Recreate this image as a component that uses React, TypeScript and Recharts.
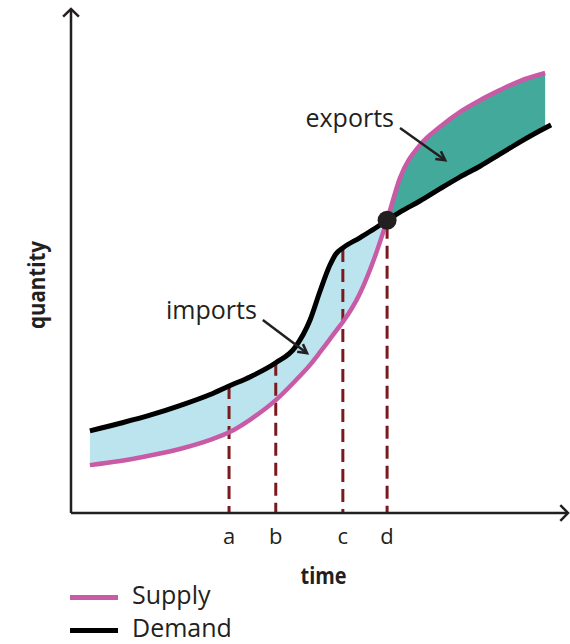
import React from "react";
import {
  ComposedChart,
  Area,
  Line,
  XAxis,
  YAxis,
  ReferenceLine,
  ReferenceDot,
  Label,
} from "recharts";

// time on the x axis, quantity on the y axis, both 0..100
const TIME = [
  3.8, 9.9, 15.9, 21.9, 28.0, 31.8, 36.0, 41.2, 45.1, 48.1, 50.1, 52.1, 53.3,
  54.7, 58.1, 61.2, 63.6, 66.2, 70.2, 74.2, 78.3, 82.3, 86.3, 90.3, 95.4, 96.6,
];
const SUPPLY = [
  9.5, 10.3, 11.4, 12.7, 14.5, 16.0, 18.5, 22.4, 26.2, 29.4, 31.9, 34.5, 36.1,
  37.9, 43.5, 51.0, 58.1, 66.5, 73.0, 76.6, 79.6, 81.9, 83.9, 85.7, 87.3, null,
];
const DEMAND = [
  16.3, 17.8, 19.4, 21.3, 23.5, 25.2, 27.0, 29.8, 32.9, 38.3, 44.0, 49.2, 51.4,
  52.6, 54.6, 56.5, 58.1, 59.7, 61.9, 64.3, 66.7, 68.8, 71.2, 73.6, 76.4, 77.0,
];

// marked moments a..d and where their dashed lines stop
const MARK_TIMES = [31.8, 41.2, 54.7, 63.6];
const MARK_LABELS = ["a", "b", "c", "d"];
const MARK_TOPS = [25.2, 29.8, 52.4, 57.0];

// supply meets demand
const CROSS_TIME = 63.6;
const CROSS_QTY = 58.1;

// annotations
const NOTE_TEXT = ["imports", "exports"];
const NOTE_FROM = [
  [38.6, 38.3],
  [66.2, 76.4],
];
const NOTE_TO = [
  [47.5, 31.7],
  [75.3, 70.0],
];

const SERIES = ["Supply", "Demand"];

const INK = "#231f20";
const PINK = "#c95aa5";
const BLUE = "#bce4ef";
const TEAL = "#43a99b";
const DASH = "#7b1a1e";
const FONT = "'Open Sans', sans-serif";

const data = TIME.map((t, i) => ({
  t,
  supply: SUPPLY[i],
  demand: DEMAND[i],
}));

const importsBand = (row: any) =>
  row.t <= CROSS_TIME && row.supply != null ? [row.supply, row.demand] : null;
const exportsBand = (row: any) =>
  row.t >= CROSS_TIME && row.supply != null ? [row.demand, row.supply] : null;

// line with an open arrow head at the second point, optional text at the first
function arrow(head: number, spread: number, width: number, text?: string) {
  return (p: any) => {
    const { x1, y1, x2, y2 } = p;
    const a = Math.atan2(y2 - y1, x2 - x1);
    const w1 = `${x2 - head * Math.cos(a - spread)},${y2 - head * Math.sin(a - spread)}`;
    const w2 = `${x2 - head * Math.cos(a + spread)},${y2 - head * Math.sin(a + spread)}`;
    return (
      <g>
        <line x1={x1} y1={y1} x2={x2} y2={y2} stroke={INK} strokeWidth={width} />
        <polyline
          points={`${w1} ${x2},${y2} ${w2}`}
          fill="none"
          stroke={INK}
          strokeWidth={width}
        />
        {text && (
          <text
            x={x1 - 6}
            y={y1 - 1}
            textAnchor="end"
            fontFamily={FONT}
            fontSize={25}
            fill={INK}
          >
            {text}
          </text>
        )}
      </g>
    );
  };
}

const markTick = (props: any) => {
  const { x, y, payload } = props;
  return (
    <text
      x={x}
      y={y + 29}
      textAnchor="middle"
      fontFamily={FONT}
      fontSize={22}
      fill={INK}
    >
      {MARK_LABELS[MARK_TIMES.indexOf(payload.value)]}
    </text>
  );
};

const timeLabel = (props: any) => {
  const vb = props.viewBox;
  return (
    <text
      x={vb.x + vb.width / 2 + 4}
      y={vb.y + 71}
      textAnchor="middle"
      fontFamily={FONT}
      fontWeight={700}
      fontSize={23}
      fill={INK}
      textLength={46}
      lengthAdjust="spacingAndGlyphs"
    >
      time
    </text>
  );
};

const qtyLabel = (props: any) => {
  const vb = props.viewBox;
  const x = vb.x + 14;
  const y = vb.y + vb.height / 2 + 24;
  return (
    <text
      x={x}
      y={y}
      transform={`rotate(-90, ${x}, ${y})`}
      textAnchor="middle"
      fontFamily={FONT}
      fontWeight={700}
      fontSize={23}
      fill={INK}
      textLength={88}
      lengthAdjust="spacingAndGlyphs"
    >
      quantity
    </text>
  );
};

export default function App() {
  return (
    <div style={{ position: "absolute", left: 0, top: 0, width: 570, height: 644 }}>
      <ComposedChart
        width={570}
        height={644}
        data={data}
        margin={{ top: 9, right: 2, left: 31, bottom: 101 }}
      >
        <XAxis
          type="number"
          dataKey="t"
          domain={[0, 100]}
          ticks={MARK_TIMES}
          axisLine={false}
          tickLine={false}
          tickSize={0}
          height={30}
          tick={markTick}
          label={<Label content={timeLabel} />}
        />
        <YAxis
          type="number"
          domain={[0, 100]}
          width={40}
          tick={false}
          axisLine={false}
          tickLine={false}
          label={<Label content={qtyLabel} />}
        />

        <Area
          dataKey={importsBand}
          type="monotone"
          fill={BLUE}
          fillOpacity={1}
          stroke="none"
          isAnimationActive={false}
        />
        <Area
          dataKey={exportsBand}
          type="monotone"
          fill={TEAL}
          fillOpacity={1}
          stroke="none"
          isAnimationActive={false}
        />

        {MARK_TIMES.map((t, i) => (
          <ReferenceLine
            key={MARK_LABELS[i]}
            segment={[
              { x: t, y: MARK_TOPS[i] },
              { x: t, y: 0 },
            ]}
            stroke={DASH}
            strokeWidth={3}
            strokeDasharray="13 7"
          />
        ))}

        <Line
          dataKey="demand"
          name={SERIES[1]}
          type="monotone"
          stroke="#000"
          strokeWidth={5}
          dot={false}
          activeDot={false}
          isAnimationActive={false}
        />
        <Line
          dataKey="supply"
          name={SERIES[0]}
          type="monotone"
          stroke={PINK}
          strokeWidth={4.5}
          dot={false}
          activeDot={false}
          isAnimationActive={false}
        />

        <ReferenceDot
          x={CROSS_TIME}
          y={CROSS_QTY}
          r={9.5}
          fill={INK}
          stroke="none"
        />

        {/* axes with arrow heads */}
        <ReferenceLine
          segment={[
            { x: 0, y: 0 },
            { x: 100, y: 0 },
          ]}
          shape={arrow(11, 0.8, 2.5)}
        />
        <ReferenceLine
          segment={[
            { x: 0, y: 0 },
            { x: 0, y: 100 },
          ]}
          shape={arrow(11, 0.8, 2.5)}
        />

        {NOTE_TEXT.map((txt, i) => (
          <ReferenceLine
            key={txt}
            segment={[
              { x: NOTE_FROM[i][0], y: NOTE_FROM[i][1] },
              { x: NOTE_TO[i][0], y: NOTE_TO[i][1] },
            ]}
            shape={arrow(10, 0.5, 2.5, txt)}
          />
        ))}
      </ComposedChart>

      {/* legend */}
      <div
        style={{
          position: "absolute",
          left: 70,
          top: 578,
          fontFamily: FONT,
          fontSize: 25,
          lineHeight: "33px",
          color: INK,
        }}
      >
        {SERIES.map((name, i) => (
          <div key={name} style={{ display: "flex", alignItems: "center" }}>
            <span
              style={{
                display: "inline-block",
                width: 48,
                height: 5,
                marginRight: 14,
                marginTop: 6,
                background: i === 0 ? PINK : "#000",
              }}
            />
            {name}
          </div>
        ))}
      </div>
    </div>
  );
}
